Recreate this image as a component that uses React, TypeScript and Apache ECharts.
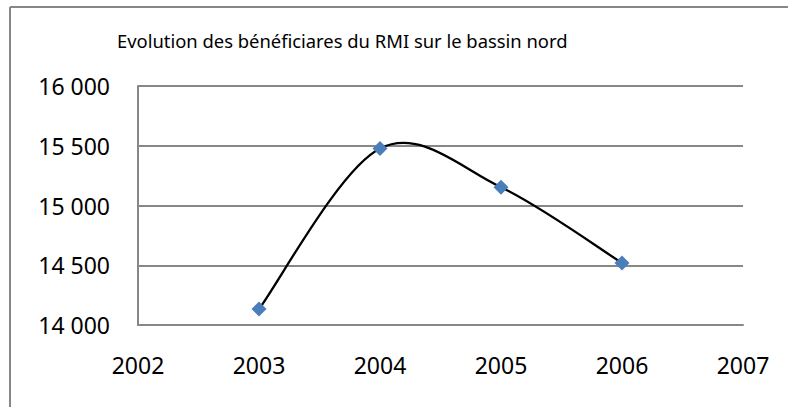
import React, { useEffect, useRef } from "react";
import * as echarts from "echarts";

const titleText = "Evolution des bénéficiares du RMI sur le bassin nord";
const years = [2003, 2004, 2005, 2006];
const beneficiaries = [14134, 15477, 15153, 14519];
const xRange = [2002, 2007];
const yRange = [14000, 16000];

const FONT = "Noto Sans";

function fmtThousands(v: number): string {
  const s = String(Math.round(v));
  return s.replace(/\B(?=(\d{3})+(?!\d))/g, " ");
}

export default function App() {
  const ref = useRef<HTMLDivElement>(null);
  useEffect(() => {
    document.body.style.margin = "0";
    const chart = echarts.init(ref.current!, null, { renderer: "svg" });
    const data = years.map((y, i) => [y, beneficiaries[i]]);
    const n = data.length;

    const renderSegment = (params: any, api: any) => {
      const i = params.dataIndex;
      if (i >= n - 1) return null;
      const P = data.map((d) => api.coord(d));
      const p0 = P[Math.max(i - 1, 0)];
      const p1 = P[i];
      const p2 = P[i + 1];
      const p3 = P[Math.min(i + 2, n - 1)];
      const c1 = [p1[0] + (p2[0] - p0[0]) / 6, p1[1] + (p2[1] - p0[1]) / 6];
      const c2 = [p2[0] - (p3[0] - p1[0]) / 6, p2[1] - (p3[1] - p1[1]) / 6];
      return {
        type: "bezierCurve",
        shape: {
          x1: p1[0],
          y1: p1[1],
          x2: p2[0],
          y2: p2[1],
          cpx1: c1[0],
          cpy1: c1[1],
          cpx2: c2[0],
          cpy2: c2[1],
        },
        style: { stroke: "#000000", lineWidth: 2.3, fill: "none" },
      };
    };

    chart.setOption({
      animation: false,
      backgroundColor: "#ffffff",
      graphic: [
        {
          type: "line",
          shape: { x1: 10, y1: 7, x2: 800, y2: 7 },
          style: { stroke: "#878787", lineWidth: 2 },
        },
        {
          type: "line",
          shape: { x1: 10, y1: 7, x2: 10, y2: 420 },
          style: { stroke: "#878787", lineWidth: 2 },
        },
        {
          type: "text",
          left: 117,
          top: 31,
          style: {
            text: titleText,
            fontFamily: FONT,
            fontSize: 18.4,
            fill: "#000000",
          },
        },
      ],
      grid: { left: 138, right: 45, top: 86, bottom: 82, containLabel: false },
      xAxis: {
        type: "value",
        min: xRange[0],
        max: xRange[1],
        interval: 1,
        axisLine: { show: true, lineStyle: { color: "#878787", width: 2 } },
        axisTick: { show: false },
        splitLine: { show: false },
        axisLabel: {
          margin: 28,
          fontFamily: FONT,
          fontSize: 23,
          color: "#000000",
          formatter: (v: number) => String(v),
        },
      },
      yAxis: {
        type: "value",
        min: yRange[0],
        max: yRange[1],
        interval: 500,
        axisLine: { show: true, lineStyle: { color: "#878787", width: 2 } },
        axisTick: { show: false },
        splitLine: { show: true, lineStyle: { color: "#878787", width: 2 } },
        axisLabel: {
          margin: 28,
          fontFamily: FONT,
          fontSize: 23,
          color: "#000000",
          formatter: (v: number) => fmtThousands(v),
        },
      },
      series: [
        {
          type: "custom",
          data,
          encode: { x: 0, y: 1 },
          renderItem: renderSegment,
          z: 3,
        },
        {
          type: "scatter",
          data,
          symbol: "diamond",
          symbolSize: 15,
          itemStyle: { color: "#4a7ebb", opacity: 1 },
          z: 4,
        },
      ],
    });
    return () => chart.dispose();
  }, []);
  return <div ref={ref} style={{ width: 788, height: 407 }} />;
}
